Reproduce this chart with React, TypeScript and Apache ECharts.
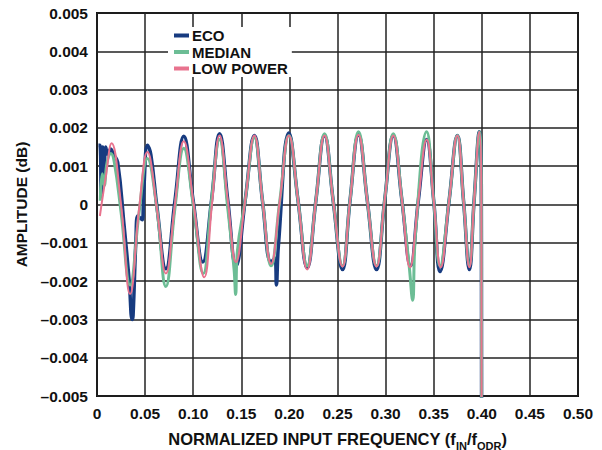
import React, { useEffect, useRef } from "react";
import * as echarts from "echarts";

const ecoData: [number, number][] = [
  [0.0015, 0.00155], [0.003, 0.00155], [0.0045, 0.0002], [0.006, 0.0015], [0.0075, 0.0007],
  [0.009, 0.0015], [0.0115, 0.0013], [0.014, 0.00145], [0.0175, 0.0013], [0.0215, 0.0011],
  [0.028, -0.0005], [0.0335, -0.002], [0.0365, -0.003], [0.0375, -0.0029], [0.0405, -0.0009],
  [0.0425, -0.0003], [0.047, -0.0004], [0.0485, 0.0003], [0.0525, 0.00155], [0.056, 0.0013],
  [0.0625, -0.0001], [0.0716, -0.00168], [0.081, 0.0001], [0.0902, 0.00178], [0.1, 0.0001],
  [0.11, -0.0015], [0.119, 0.0001], [0.1274, 0.00185], [0.136, 0.0001], [0.1445, -0.0016],
  [0.154, 0.0001], [0.1636, 0.0018], [0.172, 0.0001], [0.181, -0.0015], [0.185, -0.0014],
  [0.1865, -0.0021], [0.1885, -0.0011], [0.1995, 0.00187], [0.209, 0.0001], [0.2185, -0.00165],
  [0.2275, 0.0001], [0.2365, 0.0018], [0.2455, 0.0001], [0.2552, -0.0017], [0.263, 0.0001],
  [0.2718, 0.00182], [0.281, 0.0001], [0.2906, -0.0017], [0.299, 0.0001], [0.308, 0.0018],
  [0.317, 0.0001], [0.326, -0.0016], [0.334, 0.0001], [0.3427, 0.0017], [0.35, 0.0001],
  [0.3566, -0.00175], [0.366, 0.0001], [0.3746, 0.0018], [0.381, 0.0001], [0.3871, -0.0017],
  [0.392, 0.0001], [0.3975, 0.0019], [0.3995, 0.0004], [0.3998, -0.006],
];

const medianData: [number, number][] = [
  [0.0034, 0.0001], [0.0055, 0.0008], [0.0075, 0.0005], [0.0105, 0.0011], [0.0145, 0.00133],
  [0.018, 0.0011], [0.025, -0.0002], [0.0344, -0.0021], [0.0438, -0.0002], [0.0524, 0.0012],
  [0.0622, -0.0001], [0.0716, -0.00214], [0.081, -0.0001], [0.0902, 0.00147], [0.1, 0.0],
  [0.1105, -0.0018], [0.119, 0.0001], [0.1274, 0.0017], [0.1355, 0.0], [0.1425, -0.0017],
  [0.1441, -0.00235], [0.146, -0.0012], [0.154, 0.0001], [0.1636, 0.00175], [0.172, 0.0001],
  [0.181, -0.0016], [0.19, 0.0001], [0.1995, 0.0018], [0.209, 0.0001], [0.2185, -0.0016],
  [0.2275, 0.0001], [0.2365, 0.00185], [0.2455, 0.0001], [0.2552, -0.0016], [0.263, 0.0001],
  [0.2718, 0.0019], [0.281, 0.0001], [0.2906, -0.0016], [0.299, 0.0001], [0.308, 0.00185],
  [0.317, 0.0001], [0.3245, -0.0016], [0.3281, -0.0025], [0.331, -0.0008], [0.3427, 0.0019],
  [0.35, 0.0001], [0.3566, -0.0016], [0.366, 0.0001], [0.3746, 0.0018], [0.381, 0.0001],
  [0.3871, -0.0016], [0.392, 0.0001], [0.3975, 0.0019], [0.3995, 0.0004], [0.3998, -0.006],
];

const lowPowerData: [number, number][] = [
  [0.003, -0.0003], [0.009, 0.0007], [0.0152, 0.0016], [0.025, 0.0], [0.0344, -0.00234],
  [0.0438, -0.0001], [0.0524, 0.00137], [0.0622, -0.0001], [0.0716, -0.0018], [0.081, 0.0],
  [0.0902, 0.00165], [0.1005, 0.0], [0.1115, -0.0019], [0.1195, 0.0], [0.1274, 0.0018],
  [0.136, 0.0001], [0.1445, -0.0015], [0.154, 0.0001], [0.1636, 0.0018], [0.172, 0.0001],
  [0.181, -0.00155], [0.19, 0.0001], [0.1995, 0.0018], [0.209, 0.0001], [0.2185, -0.0017],
  [0.2275, 0.0001], [0.2365, 0.0018], [0.2455, 0.0001], [0.2552, -0.00162], [0.263, 0.0001],
  [0.2718, 0.00182], [0.281, 0.0001], [0.2906, -0.00162], [0.299, 0.0001], [0.308, 0.0018],
  [0.317, 0.0001], [0.3253, -0.00164], [0.334, 0.0001], [0.3427, 0.0017], [0.35, 0.0001],
  [0.3573, -0.00164], [0.366, 0.0001], [0.3746, 0.0018], [0.381, 0.0001], [0.3871, -0.00164],
  [0.392, 0.0001], [0.3975, 0.0019], [0.3995, 0.0004], [0.3998, -0.006],
];

const seriesNames = ["ECO", "MEDIAN", "LOW POWER"];
const seriesColors = ["#173b80", "#6cbd95", "#e8738e"];
const seriesWidths = [3.5, 3, 2];

const FONT = "'Liberation Sans', Arial, sans-serif";

export default function App() {
  const ref = useRef<HTMLDivElement>(null);
  useEffect(() => {
    if (!ref.current) return;
    const chart = echarts.init(ref.current, null, { renderer: "svg" });
    const datasets = [ecoData, medianData, lowPowerData];
    chart.setOption({
      animation: false,
      backgroundColor: "#fff",
      textStyle: { fontFamily: FONT },
      grid: {
        left: 97, right: 24, top: 13, bottom: 54,
        outerBoundsMode: "none", containLabel: false,
        show: true, borderColor: "#111", borderWidth: 2, backgroundColor: "transparent",
      },
      legend: {
        left: 168, top: 27, orient: "vertical", itemGap: 1.5,
        icon: "rect", itemWidth: 15, itemHeight: 4,
        backgroundColor: "#fff", padding: [1, 4, 1, 6],
        textStyle: { fontSize: 15, fontWeight: "bold", color: "#111", fontFamily: FONT, padding: [0, 0, 0, -2] },
        data: seriesNames,
      },
      xAxis: {
        type: "value", min: 0, max: 0.5, interval: 0.05,
        axisLine: { show: false }, axisTick: { show: false },
        splitLine: { show: true, lineStyle: { color: "#222", width: 1.5 } },
        axisLabel: {
          color: "#111", fontWeight: "bold", fontSize: 15.5, margin: 9, fontFamily: FONT,
          formatter: (v: number) => (Math.abs(v) < 1e-9 ? "0" : v.toFixed(2)),
        },
        name: "{a|NORMALIZED INPUT FREQUENCY (f}{s|IN}{a|/f}{s|ODR}{a|)}",
        nameLocation: "middle", nameGap: 33,
        nameTextStyle: {
          rich: {
            a: { fontSize: 16.5, fontWeight: "bold", color: "#111", fontFamily: FONT, verticalAlign: "bottom", lineHeight: 18 },
            s: { fontSize: 11, fontWeight: "bold", color: "#111", fontFamily: FONT, verticalAlign: "bottom", lineHeight: 12, padding: [0, 0, -4, 0] },
          },
        },
      },
      yAxis: {
        type: "value", min: -0.005, max: 0.005, interval: 0.001,
        axisLine: { show: false }, axisTick: { show: false },
        splitLine: { show: true, lineStyle: { color: "#222", width: 1.5 } },
        axisLabel: {
          color: "#111", fontWeight: "bold", fontSize: 15.5, margin: 9, fontFamily: FONT,
          formatter: (v: number) => {
            if (Math.abs(v) < 1e-9) return "0";
            return (v < 0 ? "\u2013" : "") + Math.abs(v).toFixed(3);
          },
        },
        name: "AMPLITUDE (dB)",
        nameLocation: "middle", nameGap: 67,
        nameTextStyle: { fontSize: 15.5, fontWeight: "bold", color: "#111", fontFamily: FONT },
      },
      series: seriesNames.map((name, i) => ({
        name, type: "line", data: datasets[i], showSymbol: false, smooth: 0.45,
        clip: true,
        lineStyle: { color: seriesColors[i], width: seriesWidths[i] },
        itemStyle: { color: seriesColors[i] },
      })),
    });
    return () => chart.dispose();
  }, []);
  return <div ref={ref} style={{ width: 602, height: 450, position: "absolute", left: 0, top: 0 }} />;
}
